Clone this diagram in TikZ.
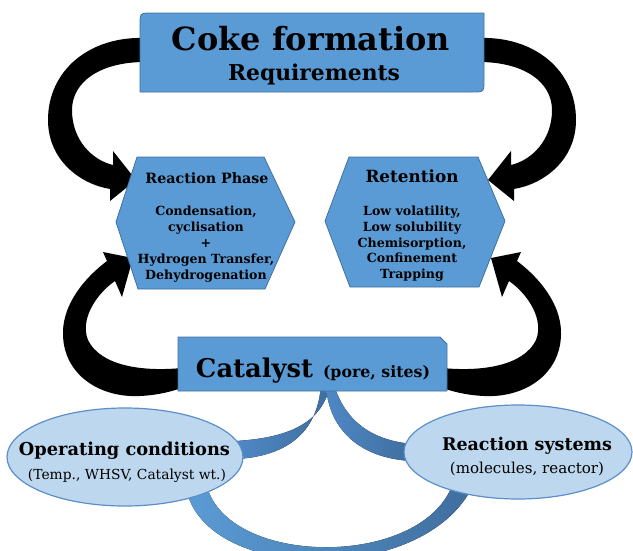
\documentclass[tikz,border=0pt]{standalone}
\usepackage{fontspec}
\setmainfont{DejaVu Serif}
\usepackage{graphicx}
\usetikzlibrary{shapes.geometric}
\definecolor{boxblue}{HTML}{5B9BD5}
\definecolor{boxline}{HTML}{41719C}
\definecolor{ellfill}{HTML}{BDD7EE}
\definecolor{ellline}{HTML}{5B8FC9}
\definecolor{ribA}{HTML}{4F88C6}
\definecolor{ribB}{HTML}{3F6E9E}
\newcommand{\fitw}[2]{\resizebox{#1}{!}{#2}}
\tikzset{
  box/.style={fill=boxblue, draw=boxline, line width=0.8pt},
  hexa/.style={fill=boxblue, draw=boxline, line width=0.8pt},
  ell/.style={ellipse, fill=ellfill, draw=ellline, line width=1.2pt, inner sep=0pt},
  blackarrow/.style={fill=black},
  ribbon/.style={left color=ribA, right color=ribB},
  txt/.style={inner sep=0pt, font=\bfseries},
  body/.style={inner sep=0pt, font=\bfseries\fontsize{12.6}{14}\selectfont, anchor=base},
}
\begin{document}
\begin{tikzpicture}[x=1pt,y=-1pt]
\useasboundingbox (0,0) rectangle (633,550);
\clip (0,0) rectangle (633,550);

% ---- blue ribbons (behind ellipses and catalyst box)
\fill[ribbon] (330,385) .. controls (322,425) and (285,438) .. (236,441)
  -- (236,459) .. controls (292,456) and (318,428) .. (321,385) -- cycle;
\fill[ribbon] (334,385) .. controls (345,420) and (370,440) .. (412,444)
  -- (412,461) .. controls (355,458) and (328,425) .. (326,385) -- cycle;
\fill[left color=boxblue, right color=ribB] (186,488) .. controls (205,585) and (430,585) .. (474,483)
  -- (452,486) .. controls (420,567) and (235,567) .. (208,490) -- cycle;

% ---- black curved arrows (left pair, then mirrored for the right pair)
\begin{scope}
  \fill[blackarrow] (145,38) .. controls (90,36) and (48,70) .. (48,120)
    .. controls (48,160) and (80,184) .. (110,189)
    -- (110,201) -- (136,180) -- (113,151) -- (113,165)
    .. controls (92,160) and (72,140) .. (72,110)
    .. controls (72,82) and (100,62) .. (145,62) -- cycle;
  \fill[blackarrow] (107,261) .. controls (78,283) and (62,310) .. (63,335)
    .. controls (64,375) and (100,398) .. (140,396)
    .. controls (160,395) and (172,391) .. (182,388)
    -- (182,368) .. controls (140,372) and (100,365) .. (88,340)
    .. controls (80,320) and (95,295) .. (115,281)
    -- (122,297) -- (133,258) -- (103,252) -- cycle;
\end{scope}
\begin{scope}[shift={(624,0)}, xscale=-1]
  \fill[blackarrow] (145,38) .. controls (90,36) and (48,70) .. (48,120)
    .. controls (48,160) and (80,184) .. (110,189)
    -- (110,201) -- (136,180) -- (113,151) -- (113,165)
    .. controls (92,160) and (72,140) .. (72,110)
    .. controls (72,82) and (100,62) .. (145,62) -- cycle;
  \fill[blackarrow] (107,261) .. controls (78,283) and (62,310) .. (63,335)
    .. controls (64,375) and (100,398) .. (140,396)
    .. controls (160,395) and (172,391) .. (182,388)
    -- (182,368) .. controls (140,372) and (100,365) .. (88,340)
    .. controls (80,320) and (95,295) .. (115,281)
    -- (122,297) -- (133,258) -- (103,252) -- cycle;
\end{scope}

% ---- top box
\draw[box] (140,25) .. controls (140,13) .. (152,13) -- (484,13) -- (484,80)
  .. controls (484,92) .. (472,92) -- (140,92) -- cycle;
\node[txt, anchor=base] (coke) at (311,50) {\fitw{278pt}{Coke formation}};
\node[txt, anchor=base] (req) at (314,80) {\fitw{172pt}{Requirements}};

% ---- hexagons
\draw[hexa] (116,222) -- (137,157) -- (264,157) -- (295,222) -- (265,289) -- (138,289) -- cycle;
\draw[hexa] (325,221) -- (349,157) -- (478,157) -- (505,221) -- (479,287) -- (350,287) -- cycle;
\node[txt, anchor=base] (rph) at (207,183) {\fitw{123pt}{Reaction Phase}};
\node[body] (rp1) at (206,215) {Condensation,};
\node[body] (rp2) at (206,231) {cyclisation};
\node[body] (rp3) at (206,247) {+};
\node[body] (rp4) at (206,263) {Hydrogen Transfer,};
\node[body] (rp5) at (206,279) {Dehydrogenation};
\node[txt, anchor=base] (ret) at (412,182) {\fitw{93pt}{Retention}};
\node[body] (rt1) at (412,215) {Low volatility,};
\node[body] (rt2) at (412,231) {Low solubility};
\node[body] (rt3) at (412,247) {Chemisorption,};
\node[body] (rt4) at (412,262) {Confinement};
\node[body] (rt5) at (412,278) {Trapping};

% ---- ellipses
\node[ell, minimum width=236pt, minimum height=98pt] (opc) at (125,457) {};
\node[ell, minimum width=228pt, minimum height=94pt] (rsy) at (518,452) {};
\node[txt, anchor=base] (opt) at (124.5,455) {\fitw{211pt}{Operating conditions}};
\node[inner sep=0pt, anchor=base] (ops) at (127,479) {\fitw{198pt}{(Temp., WHSV, Catalyst wt.)}};
\node[txt, anchor=base] (rst) at (527,450) {\fitw{170pt}{Reaction systems}};
\node[inner sep=0pt, anchor=base] (rss) at (527,473) {\fitw{154pt}{(molecules, reactor)}};

% ---- catalyst box
\draw[box] (178,337) -- (440,337) -- (447,344) -- (447,391) -- (178,391) -- cycle;
\node[txt, anchor=base] (cat) at (313,377) {\fitw{117pt}{Catalyst}\hspace{10pt}\fitw{107pt}{(pore, sites)}};
\end{tikzpicture}
\end{document}
